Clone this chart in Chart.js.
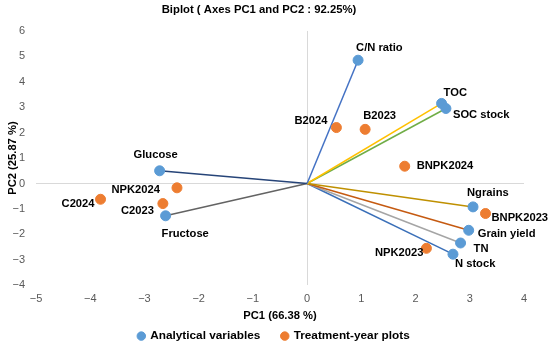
<!DOCTYPE html>
<html>
<head>
<meta charset="utf-8">
<script src="https://cdn.jsdelivr.net/npm/chart.js@4"></script>
<style>
  html, body { margin: 0; padding: 0; background: #fff; }
  #wrap { width: 550px; height: 346px; }
</style>
</head>
<body>
<div id="wrap"><canvas id="chart"></canvas></div>
<script>
"use strict"

// analytical variables (loadings)
const varNames = ['C/N ratio', 'TOC', 'SOC stock', 'Ngrains', 'Grain yield', 'TN', 'N stock', 'Glucose', 'Fructose'];
const varX = [0.94, 2.48, 2.56, 3.06, 2.98, 2.83, 2.69, -2.72, -2.61];
const varY = [4.85, 3.15, 2.95, -0.92, -1.84, -2.34, -2.78, 0.50, -1.27];

// treatment-year plots (scores)
const plotNames = ['B2024', 'B2023', 'BNPK2024', 'BNPK2023', 'NPK2023', 'NPK2024', 'C2024', 'C2023'];
const plotX = [0.54, 1.07, 1.80, 3.29, 2.20, -2.40, -3.81, -2.66];
const plotY = [2.20, 2.13, 0.68, -1.18, -2.55, -0.17, -0.62, -0.79];

const seriesNames = ['Analytical variables', 'Treatment-year plots'];

const lineColors = ['#4472C4', '#FFC000', '#70AD47', '#BF9000', '#C55A11', '#A5A5A5', '#3A6FB8', '#264478', '#636363'];

// label offsets from the marker: [dx, dy, align]
const labelPos = {
  'C/N ratio': [-2, -12, 'left'],
  'TOC': [2, -11, 'left'],
  'SOC stock': [7, 6, 'left'],
  'Ngrains': [-6, -14, 'left'],
  'Grain yield': [9, 4, 'left'],
  'TN': [13, 6, 'left'],
  'N stock': [2, 10, 'left'],
  'Glucose': [-4, -16, 'center'],
  'Fructose': [-4, 18, 'left'],
  'B2024': [-9, -7, 'right'],
  'B2023': [-2, -13, 'left'],
  'BNPK2024': [12, 0, 'left'],
  'BNPK2023': [6, 4, 'left'],
  'NPK2023': [-3, 5, 'right'],
  'NPK2024': [-17, 2, 'right'],
  'C2024': [-6, 5, 'right'],
  'C2023': [-9, 7, 'right']
};

const FONT = "'Liberation Sans', Arial, sans-serif";

const datasets = [
  {
    label: seriesNames[0],
    data: varX.map((x, i) => ({x: x, y: varY[i]})),
    backgroundColor: '#5B9BD5',
    borderColor: '#5B9BD5',
    pointRadius: 5,
    order: 0
  },
  {
    label: seriesNames[1],
    data: plotX.map((x, i) => ({x: x, y: plotY[i]})),
    backgroundColor: '#ED7D31',
    borderColor: '#ED7D31',
    pointRadius: 5,
    order: 0
  }
];
varNames.forEach((n, i) => {
  datasets.push({
    label: 'line ' + n,
    data: [{x: 0, y: 0}, {x: varX[i], y: varY[i]}],
    showLine: true,
    borderColor: lineColors[i],
    borderWidth: 1.5,
    pointRadius: 0,
    order: 1
  });
});

const pointLabels = {
  id: 'pointLabels',
  // nudge title and legend to where the original sits
  afterLayout(chart) {
    if (chart.legend) { chart.legend.left += 12; chart.legend.right += 12; }
    if (chart.titleBlock) { chart.titleBlock.left -= 3; chart.titleBlock.right -= 3; }
  },
  afterDatasetsDraw(chart) {
    const {ctx} = chart;
    ctx.save();
    ctx.font = "bold 11.2px " + FONT;
    ctx.fillStyle = '#000';
    ctx.textBaseline = 'middle';
    [varNames, plotNames].forEach((names, d) => {
      const meta = chart.getDatasetMeta(d);
      meta.data.forEach((pt, i) => {
        const p = labelPos[names[i]] || [6, 0, 'left'];
        ctx.textAlign = p[2];
        ctx.fillText(names[i], pt.x + p[0], pt.y + p[1]);
      });
    });
    ctx.restore();
  }
};

const zeroGrid = {
  display: true,
  drawTicks: false,
  lineWidth: 1,
  color: c => (c.tick && c.tick.value === 0) ? '#D9D9D9' : 'rgba(0,0,0,0)'
};

const minus = v => String(v).replace('-', '\u2212');

new Chart(document.getElementById('chart'), {
  type: 'scatter',
  data: {datasets: datasets},
  options: {
    responsive: true,
    maintainAspectRatio: false,
    animation: false,
    events: [],
    layout: {padding: {left: 0, right: 26, top: 0, bottom: -6}},
    scales: {
      x: {
        type: 'linear',
        min: -5, max: 4,
        grid: zeroGrid,
        border: {display: false},
        ticks: {stepSize: 1, padding: 7, color: '#595959', font: {family: FONT, size: 11}, callback: minus},
        title: {display: true, text: 'PC1 (66.38 %)', color: '#000', font: {family: FONT, size: 11.2, weight: 'bold'}, padding: {top: 0, bottom: 2.4}},
        afterFit: s => { s.height = 40; }
      },
      y: {
        type: 'linear',
        min: -4, max: 6,
        grid: zeroGrid,
        border: {display: false},
        ticks: {stepSize: 1, padding: 11, color: '#595959', font: {family: FONT, size: 11}, callback: minus},
        title: {display: true, text: 'PC2 (25.87 %)', color: '#000', font: {family: FONT, size: 11.2, weight: 'bold'}, padding: {top: 6, bottom: 0}},
        afterFit: s => { s.width = 36; }
      }
    },
    plugins: {
      title: {
        display: true,
        text: 'Biplot ( Axes PC1 and PC2 : 92.25%)',
        color: '#000',
        font: {family: FONT, size: 11.3, weight: 'bold'},
        padding: {top: 3, bottom: 14.4}
      },
      legend: {
        position: 'bottom',
        labels: {
          usePointStyle: true,
          pointStyle: 'circle',
          boxWidth: 6,
          boxHeight: 6,
          padding: 5,
          color: '#000',
          font: {family: FONT, size: 11.8, weight: 'bold'},
          filter: item => item.datasetIndex < 2,
          generateLabels: chart => {
            const items = Chart.defaults.plugins.legend.labels.generateLabels(chart);
            if (items[0]) items[0].text += '     ';
            return items;
          }
        }
      },
      tooltip: {enabled: false}
    }
  },
  plugins: [pointLabels]
});
</script>
</body>
</html>
